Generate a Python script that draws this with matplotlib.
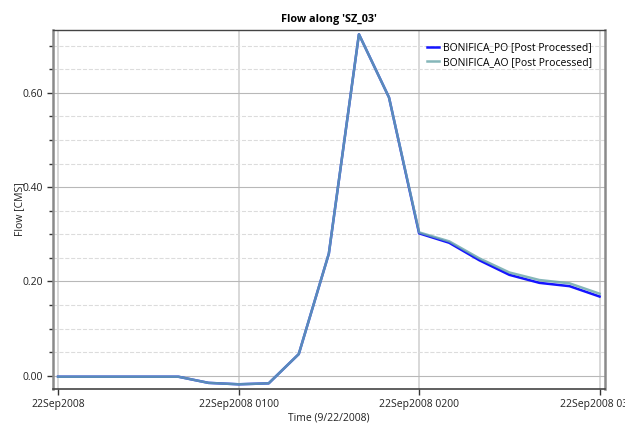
import numpy as np
import pandas as pd
import matplotlib
matplotlib.use("Agg")
import matplotlib.pyplot as plt
import matplotlib.dates as mdates
from matplotlib.ticker import MultipleLocator, FormatStrFormatter

# =========================
# DATA
# =========================
times = ["2008-09-22 00:00", "2008-09-22 00:10", "2008-09-22 00:20", "2008-09-22 00:30",
         "2008-09-22 00:40", "2008-09-22 00:50", "2008-09-22 01:00", "2008-09-22 01:10",
         "2008-09-22 01:20", "2008-09-22 01:30", "2008-09-22 01:40", "2008-09-22 01:50",
         "2008-09-22 02:00", "2008-09-22 02:10", "2008-09-22 02:20", "2008-09-22 02:30",
         "2008-09-22 02:40", "2008-09-22 02:50", "2008-09-22 03:00"]

flow_po = [-0.002, -0.002, -0.002, -0.002, -0.002, -0.015, -0.018, -0.016, 0.046, 0.259,
           0.724, 0.590, 0.302, 0.282, 0.245, 0.214, 0.197, 0.190, 0.168]
flow_ao = [-0.002, -0.002, -0.002, -0.002, -0.002, -0.015, -0.018, -0.016, 0.046, 0.259,
           0.724, 0.590, 0.304, 0.285, 0.249, 0.219, 0.203, 0.196, 0.174]

tick_times = ["2008-09-22 00:00", "2008-09-22 01:00", "2008-09-22 02:00", "2008-09-22 03:00"]
tick_labels = ["22Sep2008", "22Sep2008 0100", "22Sep2008 0200", "22Sep2008 0300"]

TITLE = "Flow along 'SZ_03'"
XLABEL = "Time (9/22/2008)"
YLABEL = "Flow [CMS]"

# =========================
# PLOT
# =========================
plt.rcParams["font.family"] = ["Open Sans", "DejaVu Sans"]
plt.rcParams["font.size"] = 7.5

t = pd.to_datetime(times)
ticks = pd.to_datetime(tick_times)

fig = plt.figure(figsize=(6.25, 4.25), dpi=100)
ax = fig.add_axes([0.0843, 0.0847, 0.968 - 0.0843, 0.9294 - 0.0847])

ax.plot(t, flow_po, color="#1414ff", lw=1.8, label="BONIFICA_PO [Post Processed]", zorder=3)
ax.plot(t, flow_ao, color="#6aa6aa", lw=1.8, alpha=0.82, label="BONIFICA_AO [Post Processed]", zorder=4)

# little padding on both sides of the time axis
pad = pd.Timedelta(minutes=1.8)
ax.set_xlim(t[0] - pad, t[-1] + pad)
ax.set_ylim(-0.028, 0.733)

ax.set_xticks(ticks)
ax.set_xticklabels(tick_labels)
ax.yaxis.set_major_locator(MultipleLocator(0.2))
ax.yaxis.set_minor_locator(MultipleLocator(0.05))
ax.yaxis.set_major_formatter(FormatStrFormatter("%.2f"))

ax.tick_params(axis="both", which="major", length=4, width=1, color="#333333",
               labelsize=7.5, labelcolor="#222222", pad=3)
ax.tick_params(axis="y", which="minor", length=3, width=1, color="#333333")

ax.grid(axis="x", which="major", color="#d6d6d6", lw=1.3, ls="-")
ax.grid(axis="y", which="major", color="#b8b8b8", lw=0.8, ls="-")
ax.grid(axis="y", which="minor", color="#dcdcdc", lw=0.8, ls="--")
ax.set_axisbelow(True)

for side in ["left", "right"]:
    ax.spines[side].set_color("#8a8a8a")
    ax.spines[side].set_linewidth(1.8)
ax.spines["top"].set_color("#444444")
ax.spines["top"].set_linewidth(1.0)
ax.spines["bottom"].set_color("#444444")
ax.spines["bottom"].set_linewidth(1.2)

ax.set_title(TITLE, fontsize=7.8, fontweight="bold", pad=6)
ax.set_xlabel(XLABEL, fontsize=7.5, color="#222222", labelpad=2)
ax.set_ylabel(YLABEL, fontsize=7.5, color="#222222", labelpad=-2)

leg = ax.legend(loc="upper right", frameon=False, fontsize=7.5, handlelength=1.2,
                handletextpad=0.4, labelspacing=0.3, borderaxespad=0.8)

fig.savefig("out.png", dpi=100)
